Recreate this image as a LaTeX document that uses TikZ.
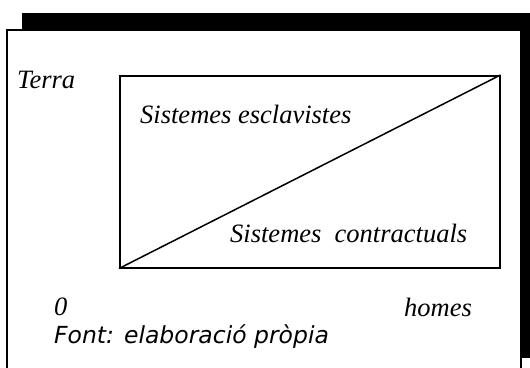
\documentclass[tikz,border=0pt]{standalone}
\usepackage{fontspec}
\setmainfont{Liberation Serif}
\newfontfamily\srcfont{DejaVu Sans}
\begin{document}
\begin{tikzpicture}[x=1pt,y=-1pt,
		eix/.style={anchor=base west,inner sep=0pt,font=\fontsize{26.5}{30}\selectfont\itshape},
		font src/.style={anchor=base west,inner sep=0pt,font=\srcfont\fontsize{23.5}{27}\selectfont\itshape}]
	\clip (0,0) rectangle (530,367);
	\fill (22,13) rectangle (540,358);
	\draw[line width=2pt,fill=white] (7,30) rectangle (521,380);
	\node[draw,line width=1.5pt,inner sep=0pt,minimum width=380pt,minimum height=192pt,anchor=north west] (quadre) at (119,75) {};
	\draw[line width=1.5pt] (quadre.south west) -- (quadre.north east);
	\node[eix] (terra) at (17,88) {Terra};
	\node[eix] (esclav) at (140,123) {Sistemes esclavistes};
	\node[eix] (contract) at (230,242) {Sistemes\ \ contractuals};
	\node[eix] (zero) at (54,315) {0};
	\node[eix] (homes) at (404,316) {homes};
	\node[font src] (font) at (54,343) {Font: elaboració pròpia};
\end{tikzpicture}
\end{document}
